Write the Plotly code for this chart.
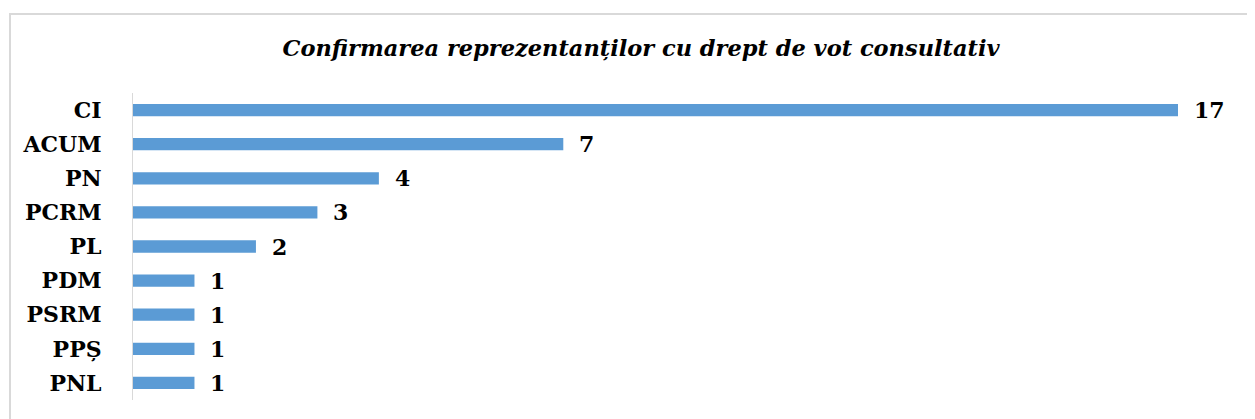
import plotly.graph_objects as go

# data, top to bottom
parties = ["CI", "ACUM", "PN", "PCRM", "PL", "PDM", "PSRM", "PPȘ", "PNL"]
counts = [17, 7, 4, 3, 2, 1, 1, 1, 1]

title_text = "Confirmarea reprezentanților cu drept de vot consultativ"
bar_color = "#5b9bd5"
label_font = dict(family="DejaVu Serif", size=22, color="#000000")

fig = go.Figure(
    go.Bar(
        x=counts,
        y=parties,
        orientation="h",
        marker=dict(color=bar_color, line=dict(width=0)),
        width=0.36,
        hoverinfo="x+y",
    )
)

# value labels to the right of each bar
for p, c in zip(parties, counts):
    fig.add_annotation(
        x=c,
        y=p,
        text=f"<b>{c}</b>",
        showarrow=False,
        xanchor="left",
        xshift=14,
        font=label_font,
    )

# light grey frame around the chart area
fig.add_shape(
    type="rect",
    xref="paper",
    yref="paper",
    x0=-0.1177,
    x1=1.2,
    y0=-0.2,
    y1=1.257,
    line=dict(color="#d9d9d9", width=2),
    fillcolor="rgba(0,0,0,0)",
    layer="below",
)

fig.update_layout(
    width=1255,
    height=419,
    margin=dict(l=125, r=85, t=85, b=27),
    paper_bgcolor="white",
    plot_bgcolor="white",
    showlegend=False,
    title=dict(
        text=f"<b><i>{title_text}</i></b>",
        x=0.5044,
        xanchor="center",
        y=1 - 40 / 419,
        yanchor="middle",
        yref="container",
        font=dict(family="DejaVu Serif", size=22.5, color="#000000"),
    ),
    xaxis=dict(
        range=[0, 17],
        visible=False,
        showgrid=False,
        zeroline=False,
    ),
    yaxis=dict(
        autorange="reversed",
        showgrid=False,
        showline=True,
        linecolor="#d9d9d9",
        linewidth=1,
        ticks="",
        ticklabelstandoff=26,
        tickfont=label_font,
        tickprefix="<b>",
        ticksuffix="</b>",
    ),
)

fig.write_html("out.html")
